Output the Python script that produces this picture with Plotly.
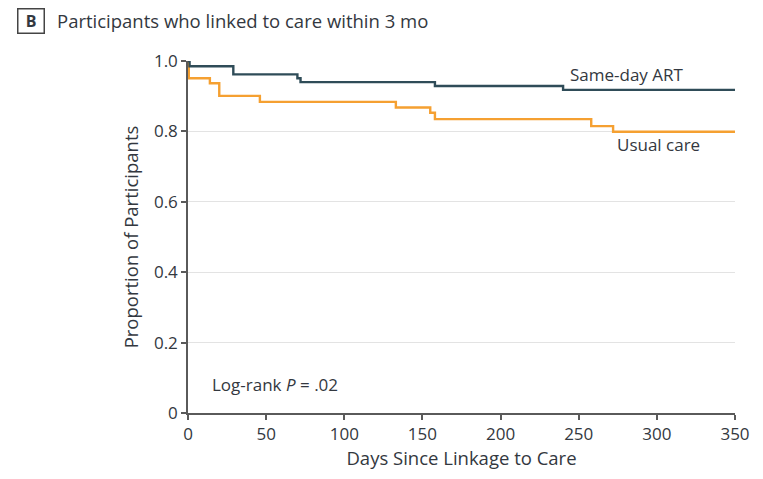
import plotly.graph_objects as go

# Kaplan-Meier step data (days, proportion still in care)
same_day_days = [0, 1, 29, 70, 72, 158, 240, 350]
same_day_prop = [1.0, 0.985, 0.962, 0.951, 0.940, 0.929, 0.918, 0.918]

usual_days = [0, 0.5, 14, 20, 46, 133, 155, 158, 258, 272, 350]
usual_prop = [1.0, 0.951, 0.937, 0.901, 0.884, 0.868, 0.853, 0.835, 0.815, 0.799, 0.799]

x_ticks = [0, 50, 100, 150, 200, 250, 300, 350]
y_ticks = [0, 0.2, 0.4, 0.6, 0.8, 1.0]
y_tick_text = ["0", "0.2", "0.4", "0.6", "0.8", "1.0"]

TEAL = "#2f4c58"
ORANGE = "#f5a031"
TEXT = "#333840"
FONT = "Open Sans"

fig = go.Figure()
fig.add_trace(go.Scatter(x=usual_days, y=usual_prop, mode="lines",
                         line=dict(shape="hv", color=ORANGE, width=2.4),
                         name="Usual care", hoverinfo="skip"))
fig.add_trace(go.Scatter(x=same_day_days, y=same_day_prop, mode="lines",
                         line=dict(shape="hv", color=TEAL, width=2.4),
                         name="Same-day ART", hoverinfo="skip"))

fig.update_layout(
    width=763, height=479,
    margin=dict(l=188, r=28, t=61, b=66),
    paper_bgcolor="white", plot_bgcolor="white",
    showlegend=False,
    font=dict(family=FONT, color=TEXT, size=16),
    xaxis=dict(range=[0, 350], tickvals=x_ticks, showgrid=False, zeroline=False,
               showline=True, linecolor="#5a5a5a", linewidth=1.5,
               ticks="outside", ticklen=5, tickcolor="#5a5a5a", tickwidth=1.5,
               tickfont=dict(size=17, color=TEXT),
               title=dict(text="Days Since Linkage to Care", font=dict(size=18.5, color=TEXT), standoff=6)),
    yaxis=dict(range=[0, 1.0], tickvals=y_ticks, ticktext=y_tick_text,
               showgrid=True, gridcolor="#e3e3e3", gridwidth=1.2, zeroline=False,
               showline=True, linecolor="#5a5a5a", linewidth=1.5,
               ticks="outside", ticklen=5, tickcolor="#5a5a5a", tickwidth=1.5,
               tickfont=dict(size=17, color=TEXT),
               title=dict(text="Proportion of Participants", font=dict(size=18.5, color=TEXT), standoff=10)),
)

fig.add_annotation(x=281, y=0.962, text="Same-day ART", showarrow=False,
                   xanchor="center", yanchor="middle", font=dict(size=17, color=TEXT))
fig.add_annotation(x=301, y=0.763, text="Usual care", showarrow=False,
                   xanchor="center", yanchor="middle", font=dict(size=17, color=TEXT))
fig.add_annotation(x=14, y=0.08, text="Log-rank <i>P</i> = .02", showarrow=False,
                   xanchor="left", yanchor="middle", font=dict(size=17, color=TEXT))

# Panel label and heading
fig.add_annotation(xref="paper", yref="paper",
                   x=(30.5 - 188) / 547, y=1 + (61 - 20.5) / 352,
                   text="<b>B</b>", showarrow=False, xanchor="center", yanchor="middle",
                   width=23, height=21, bordercolor="#444", borderwidth=1.5, borderpad=1,
                   font=dict(size=16, color=TEXT))
fig.add_annotation(xref="paper", yref="paper",
                   x=(55 - 188) / 547, y=1 + (61 - 20.5) / 352,
                   text="Participants who linked to care within 3 mo", showarrow=False,
                   xanchor="left", yanchor="middle", font=dict(size=18.5, color=TEXT))

fig.write_html("out.html")
